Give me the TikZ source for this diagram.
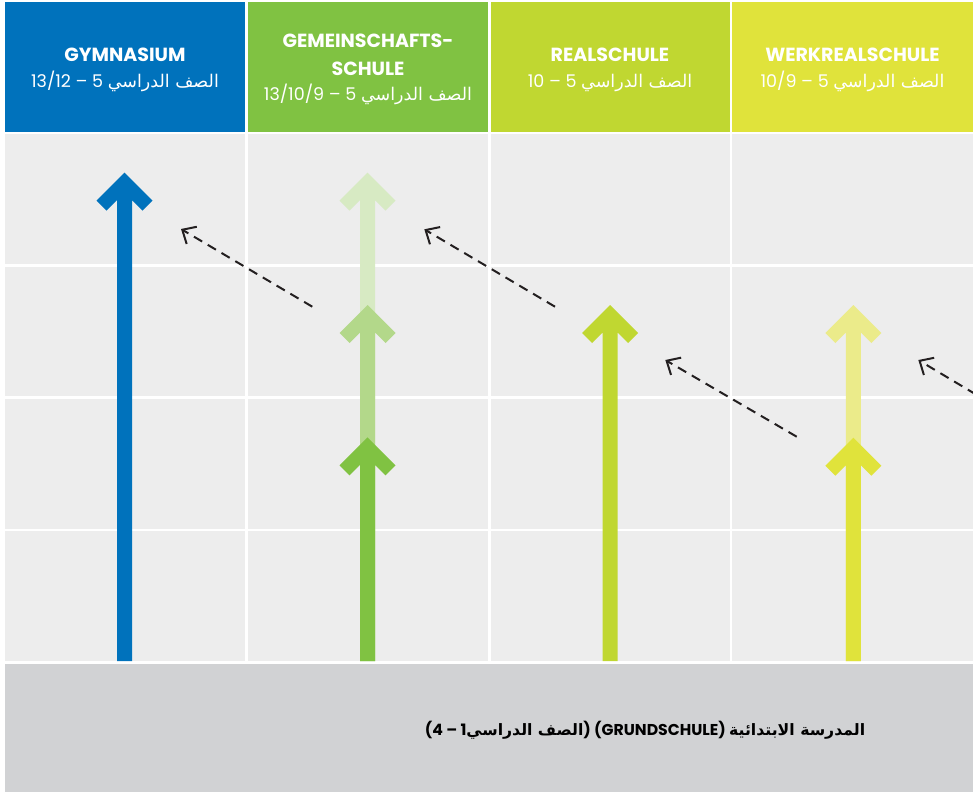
\documentclass[tikz,border=0pt]{standalone}
\usepackage{fontspec}
\setmainfont{Poppins}
\newfontfamily\arabicfont[Script=Arabic]{DejaVu Sans}
\TeXXeTstate=1
\usetikzlibrary{arrows.meta}
\definecolor{gblue}{HTML}{0072BC}
\definecolor{ggreen}{HTML}{80C242}
\definecolor{ggreenmid}{HTML}{B3D88A}
\definecolor{ggreenpale}{HTML}{D7EAC3}
\definecolor{greal}{HTML}{C0D731}
\definecolor{gwerk}{HTML}{E0E33B}
\definecolor{gwerkpale}{HTML}{EBEB8A}
\definecolor{bodygray}{HTML}{EDEDED}
\definecolor{basegray}{HTML}{D1D2D4}
\definecolor{dashcol}{HTML}{231F20}
\newcommand\upArrow[3]{%
  \fill[#3] (#1,#2) -- ++(28,28) -- ++(-10,10) -- ++(-10.5,-10.5)
    -- (#1+7.5,661) -- (#1-7.5,661) -- (#1-7.5,#2+27.5)
    -- ++(-10.5,10.5) -- ++(-10,-10) -- cycle;}
\newcommand\arsub[1]{{\arabicfont\beginR #1\endR}}
\begin{document}
\begin{tikzpicture}[x=1pt,y=-1pt,
  titletext/.style={anchor=base,text=white,inner sep=0pt,font=\fontsize{19}{21}\selectfont\bfseries},
  subtext/.style={anchor=base,text=white,inner sep=0pt,font=\fontsize{17.5}{19}\selectfont},
  basetext/.style={anchor=base,text=black,inner sep=0pt,font=\fontsize{15.7}{18}\selectfont\bfseries},
  gridline/.style={white,line width=2.8pt},
  dasharrow/.style={dashcol,line width=2pt,dash pattern=on 9.5pt off 6.5pt,
    -{Straight Barb[length=11pt,width=20pt,line width=2pt]}}]
\useasboundingbox (0,0) rectangle (973,792);
\fill[white] (0,0) rectangle (973,792);
% header boxes
\fill[gblue] (5,2) rectangle (245.3,131.7);
\fill[ggreen] (247.5,2) rectangle (488.3,131.7);
\fill[greal] (490.5,2) rectangle (730,131.7);
\fill[gwerk] (732.2,2) rectangle (973,131.7);
% body
\fill[bodygray] (5,134.3) rectangle (973,661);
\foreach \yy in {265.5,397.8,530} \draw[gridline] (5,\yy) -- (973,\yy);
\foreach \xx in {246.3,489.3,731} \draw[gridline] (\xx,134.3) -- (\xx,661);
% base band
\fill[basegray] (5,663.7) rectangle (973,792);
% arrows
\upArrow{124.5}{172.7}{gblue}
\upArrow{367.5}{172.7}{ggreenpale}
\upArrow{367.5}{305}{ggreenmid}
\upArrow{367.5}{437.3}{ggreen}
\upArrow{610.2}{305}{greal}
\upArrow{853.3}{305}{gwerkpale}
\upArrow{853.3}{437.7}{gwerk}
% dashed transfer arrows
\coordinate (a1s) at (312.3,306.7); \coordinate (a1e) at (181,229);
\coordinate (a2s) at (555,306.7);   \coordinate (a2e) at (424.3,229.3);
\coordinate (a3s) at (796.7,436.7); \coordinate (a3e) at (665.3,360);
\coordinate (a4s) at (976,394.5);   \coordinate (a4e) at (918.3,360);
\draw[dasharrow] (a1s) -- (a1e);
\draw[dasharrow] (a2s) -- (a2e);
\draw[dasharrow] (a3s) -- (a3e);
\draw[dasharrow] (a4s) -- (a4e);
% header texts
\node[titletext] (gymT) at (125,61.7) {GYMNASIUM};
\node[subtext] (gymS) at (125,87.3) {13/12 – 5 \arsub{الصف الدراسي}};
\node[titletext] (gemT1) at (368,47.3) {GEMEINSCHAFTS-};
\node[titletext] (gemT2) at (368,75) {SCHULE};
\node[subtext] (gemS) at (368,100.7) {13/10/9 – 5 \arsub{الصف الدراسي}};
\node[titletext] (realT) at (610,61.7) {REALSCHULE};
\node[subtext] (realS) at (610,87.3) {10 – 5 \arsub{الصف الدراسي}};
\node[titletext] (werkT) at (852.5,61.7) {WERKREALSCHULE};
\node[subtext] (werkS) at (852.5,87.3) {10/9 – 5 \arsub{الصف الدراسي}};
% base text
\node[basetext] (grund) at (645,735) {(4 – 1{\arabicfont\beginR الصف الدراسي\endR}) (GRUNDSCHULE) {\arabicfont\beginR المدرسة الابتدائية\endR}};
\end{tikzpicture}
\end{document}
